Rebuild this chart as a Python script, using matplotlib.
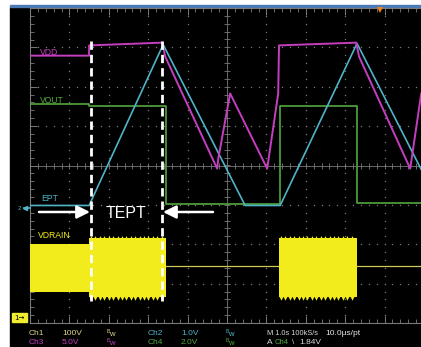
import numpy as np
import matplotlib
matplotlib.use("Agg")
import matplotlib.pyplot as plt
from matplotlib.ticker import MultipleLocator
from matplotlib.patches import Rectangle

# ---------------- data (time in s, 1 s/div; amplitude in screen divisions) ----------------
vdd_t = [0.00, 1.50, 1.50, 3.36, 3.43, 4.75, 4.78, 5.08, 6.02, 6.30, 6.32, 8.28, 8.35, 9.65, 9.93]
vdd_v = [2.79, 2.79, 3.05, 3.12, 2.77, -0.08, 0.18, 1.83, -0.08, 1.83, 3.05, 3.12, 2.77, -0.08, 1.83]

vout_t = [0.00, 1.50, 1.50, 3.45, 3.45, 6.34, 6.34, 8.30, 8.30, 10.0]
vout_v = [1.55, 1.55, 1.52, 1.52, -0.97, -0.97, 1.52, 1.52, -0.95, -0.95]

ept_t = [0.00, 1.50, 3.38, 5.46, 6.35, 8.30, 10.0]
ept_v = [-1.015, -1.015, 3.07, -1.015, -1.015, 3.10, -0.24]

vdrain_t = [0.00, 1.50, 1.50, 3.45, 3.45, 6.32, 6.32, 8.30, 8.30, 10.0]
vdrain_hi = [-2.00, -2.00, -1.83, -1.83, -2.56, -2.56, -1.83, -1.83, -2.56, -2.56]
vdrain_lo = [-3.20, -3.20, -3.33, -3.33, -2.56, -2.56, -3.33, -3.33, -2.56, -2.56]
vdrain_base = -2.56
burst_windows = [(1.50, 3.45), (6.32, 8.30)]

tept_bounds = [1.54, 3.36]

trace_labels = ["VDD", "VOUT", "EPT", "VDRAIN"]
status_row1 = ["Ch1", "100V", "Ch2", "1.0V", "M 1.0s 100kS/s", "10.0\u00b5s/pt"]
status_row2 = ["Ch3", "5.0V", "Ch4", "2.0V", "A", "Ch4", "\\", "1.84V"]

# ---------------- style ----------------
C_VDD = "#c43fc0"
C_EPT = "#4fb4c8"
C_VOUT = "#52a83e"
C_YEL = "#f2ec1c"
C_GRID = "#7a7a7a"
FONT = "Liberation Sans"

W, H = 421, 347
fig = plt.figure(figsize=(W / 100, H / 100), dpi=100)
fig.patch.set_facecolor("white")

# background axes in pixel coordinates
bg = fig.add_axes([0, 0, 1, 1], zorder=0)
bg.set_xlim(0, W)
bg.set_ylim(H, 0)
bg.axis("off")
bg.add_patch(Rectangle((10, 7), W - 10, H - 7, color="black"))
bg.add_patch(Rectangle((10, 4.5), W - 10, 2.8, color="#4a7ab5"))

# main scope axes: 10 x 8 divisions
ax = fig.add_axes([30 / W, 24 / H, 394 / W, 315 / H], zorder=1)
ax.set_facecolor("none")
ax.set_xlim(0, 10)
ax.set_ylim(-4, 4)

# graticule
dots = np.arange(0, 10.001, 0.2)
ydots = np.arange(-4, 4.001, 0.2)
for xv in range(1, 10):
    if xv != 5:
        ax.plot([xv] * len(ydots), ydots, ls="none", marker="o", ms=1.0, mew=0, color=C_GRID, zorder=1)
for yv in range(-3, 4):
    if yv != 0:
        ax.plot(dots, [yv] * len(dots), ls="none", marker="o", ms=1.0, mew=0, color=C_GRID, zorder=1)
ax.axvline(5, color=C_GRID, lw=0.6, zorder=1)
ax.axhline(0, color=C_GRID, lw=0.6, zorder=1)
ax.plot([5] * len(ydots), ydots, ls="none", marker="_", ms=5, mew=0.6, color=C_GRID, zorder=1)
ax.plot(dots, [0] * len(dots), ls="none", marker="|", ms=5, mew=0.6, color=C_GRID, zorder=1)

for s in ["left", "top", "bottom"]:
    ax.spines[s].set_color(C_GRID)
    ax.spines[s].set_linewidth(0.8)
ax.spines["right"].set_visible(False)
ax.xaxis.set_major_locator(MultipleLocator(1))
ax.xaxis.set_minor_locator(MultipleLocator(0.2))
ax.yaxis.set_major_locator(MultipleLocator(1))
ax.yaxis.set_minor_locator(MultipleLocator(0.2))
ax.tick_params(which="both", direction="in", color=C_GRID, top=True, bottom=True,
               left=True, right=False, labelbottom=False, labelleft=False)
ax.tick_params(which="major", length=5, width=0.7)
ax.tick_params(which="minor", length=3, width=0.6)

# VDRAIN
ax.plot([0, 10], [vdrain_base, vdrain_base], color="#cfc85a", lw=0.9, zorder=2)
ax.fill_between(vdrain_t, vdrain_lo, vdrain_hi, color=C_YEL, lw=0, zorder=3)
for (a, b) in burst_windows:
    tx = np.arange(a + 0.05, b - 0.03, 0.112)
    ax.plot(tx, [vdrain_lo[2] - 0.03] * len(tx), ls="none", marker="v", ms=3.2, mew=0, color=C_YEL, zorder=3)
    ax.plot(tx, [vdrain_hi[2] + 0.01] * len(tx), ls="none", marker="^", ms=2.0, mew=0, color=C_YEL, zorder=3)

# traces
ax.plot(vout_t, vout_v, color=C_VOUT, lw=1.2, zorder=4)
ax.plot(ept_t, ept_v, color=C_EPT, lw=1.2, zorder=5)
ax.plot(vdd_t, vdd_v, color=C_VDD, lw=1.4, zorder=6)

# TEPT markers
for xb in tept_bounds:
    ax.plot([xb, xb], [3.17, -3.43], color="white", lw=2.0, ls=(0, (3.0, 1.8)), zorder=8)

# overlay axes in pixel coords
ov = fig.add_axes([0, 0, 1, 1], zorder=3)
ov.set_xlim(0, W)
ov.set_ylim(H, 0)
ov.axis("off")
ov.patch.set_alpha(0)

label_pos = [(40, 52, C_VDD), (40, 100, C_VOUT), (41, 198, C_EPT), (38, 235, C_YEL)]
for txt, (x, y, c) in zip(trace_labels, label_pos):
    ov.text(x, y, txt, color=c, fontsize=6.2, family=FONT, ha="left", va="center")

ov.text(126.5, 213, "TEPT", color="white", fontsize=11.5, family=FONT, ha="center", va="center")
ap = dict(arrowstyle="-|>,head_length=0.6,head_width=0.3", color="white", lw=1.8,
          mutation_scale=13, shrinkA=0, shrinkB=0)
ov.annotate("", xy=(90, 212), xytext=(39, 212), arrowprops=ap)
ov.annotate("", xy=(163, 212), xytext=(213, 212), arrowprops=ap)

# channel ground markers
ov.plot([24, 30], [207.5, 207.5], color=C_EPT, lw=1.2)
ov.plot([25], [207.5], marker="<", ms=3, color=C_EPT)
ov.text(19, 208, "2", color=C_EPT, fontsize=4.5, family=FONT, ha="center", va="center")
ov.add_patch(Rectangle((12, 312.5), 15, 9, color="#f0ec30"))
ov.text(14, 317.5, "1\u2192", color="black", fontsize=5, family="DejaVu Sans", ha="left", va="center")

# trigger marker
ov.plot([380], [10], marker="v", ms=5, color="#f08020", mew=0)

# status text
fs = 6.0
r1, r2 = 333.5, 343
ov.text(29, r1, status_row1[0], color="#ddd488", fontsize=fs, family=FONT, va="center")
ov.text(62, r1, status_row1[1], color="#ddd488", fontsize=fs, family=FONT, va="center")
ov.text(148, r1, status_row1[2], color=C_EPT, fontsize=fs, family=FONT, va="center")
ov.text(181, r1, status_row1[3], color=C_EPT, fontsize=fs, family=FONT, va="center")
ov.text(267, r1, status_row1[4], color="#d8d8d8", fontsize=5.3, family=FONT, va="center")
ov.text(325, r1, status_row1[5], color="#e8e8e8", fontsize=fs, family=FONT, va="center")

ov.text(29, r2, status_row2[0], color=C_VDD, fontsize=fs, family=FONT, va="center")
ov.text(62, r2, status_row2[1], color=C_VDD, fontsize=fs, family=FONT, va="center")
ov.text(148, r2, status_row2[2], color=C_VOUT, fontsize=fs, family=FONT, va="center")
ov.text(181, r2, status_row2[3], color=C_VOUT, fontsize=fs, family=FONT, va="center")
ov.text(267, r2, status_row2[4], color="#d8d8d8", fontsize=fs, family=FONT, va="center")
ov.text(275, r2, status_row2[5], color=C_VOUT, fontsize=5.6, family=FONT, va="center")
ov.text(292.5, r2, status_row2[6], color="#d8d8d8", fontsize=5.6, family=FONT, va="center")
ov.text(299, r2, status_row2[7], color="#d8d8d8", fontsize=fs, family=FONT, va="center")

for (x, y, c) in [(107, r1, "#ddd488"), (107, r2, C_VDD), (226, r1, C_EPT), (226, r2, C_VOUT)]:
    ov.text(x, y - 2.2, "B", color=c, fontsize=3.6, family=FONT, ha="left", va="center")
    ov.text(x + 2.5, y + 0.6, "w", color=c, fontsize=5.5, family=FONT, ha="left", va="center")

fig.savefig("out.png", dpi=100, facecolor=fig.get_facecolor())
